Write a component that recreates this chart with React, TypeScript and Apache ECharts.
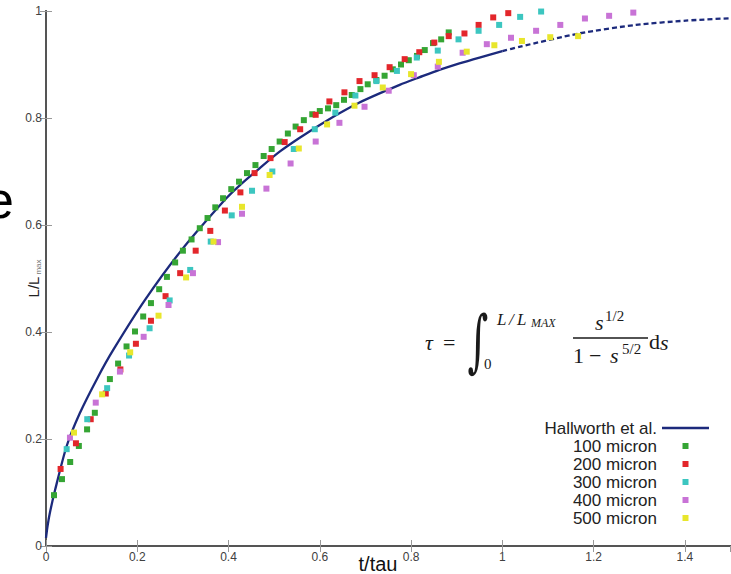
import React, { useEffect, useRef } from "react";
import * as echarts from "echarts";

// ---- data ----
const seriesNames = ["Hallworth et al.", "100 micron", "200 micron", "300 micron", "400 micron", "500 micron"];
const seriesColors = ["#1c2a7c", "#35a534", "#e3262b", "#3cc6c0", "#c873d6", "#e8e62c"];

const hallworthSolid: [number, number][] = [
  [0, 0.015], [0.003, 0.035], [0.008, 0.06], [0.02, 0.105], [0.045, 0.186], [0.074, 0.248],
  [0.114, 0.316], [0.147, 0.366], [0.217, 0.46], [0.297, 0.553], [0.392, 0.647], [0.4245, 0.674],
  [0.468, 0.706], [0.512, 0.737], [0.556, 0.763], [0.6, 0.787], [0.643, 0.809], [0.687, 0.829],
  [0.731, 0.846], [0.775, 0.862], [0.818, 0.876], [0.862, 0.89], [0.906, 0.902], [0.95, 0.913],
  [1.0, 0.925],
];
const hallworthDashed: [number, number][] = [
  [1.0, 0.925], [1.037, 0.933], [1.168, 0.958], [1.2925, 0.974], [1.402, 0.982], [1.5, 0.9865],
];

const micron100: [number, number][] = [
  [0.0175, 0.095], [0.035, 0.125], [0.053, 0.157], [0.072, 0.187], [0.09, 0.218], [0.107, 0.249],
  [0.14, 0.312], [0.158, 0.341], [0.1765, 0.373], [0.195, 0.401], [0.213, 0.429], [0.23, 0.454],
  [0.248, 0.48], [0.265, 0.503], [0.283, 0.53], [0.3, 0.552], [0.319, 0.573], [0.337, 0.594],
  [0.354, 0.613], [0.371, 0.633], [0.388, 0.65], [0.406, 0.667], [0.423, 0.681], [0.4405, 0.697],
  [0.459, 0.712], [0.477, 0.729], [0.4945, 0.742], [0.512, 0.756], [0.53, 0.771], [0.547, 0.784],
  [0.565, 0.796], [0.5835, 0.807], [0.6, 0.813], [0.618, 0.818], [0.636, 0.824], [0.653, 0.834],
  [0.67, 0.843], [0.689, 0.854], [0.705, 0.863], [0.724, 0.871], [0.742, 0.879], [0.76, 0.891],
  [0.778, 0.9], [0.795, 0.908], [0.813, 0.916], [0.83, 0.927], [0.848, 0.94], [0.866, 0.947],
  [0.8825, 0.96],
];
const micron200: [number, number][] = [
  [0.032, 0.144], [0.0656, 0.192], [0.098, 0.237], [0.131, 0.285], [0.163, 0.33], [0.197, 0.378],
  [0.23, 0.421], [0.262, 0.467], [0.294, 0.51], [0.328, 0.552], [0.36, 0.589], [0.392, 0.627],
  [0.426, 0.661], [0.457, 0.697], [0.492, 0.725], [0.523, 0.755], [0.557, 0.779], [0.591, 0.806],
  [0.621, 0.831], [0.654, 0.848], [0.687, 0.869], [0.72, 0.88], [0.753, 0.895], [0.786, 0.91],
  [0.818, 0.923], [0.851, 0.941], [0.8825, 0.953], [0.917, 0.958], [0.948, 0.974], [0.98, 0.988],
  [1.013, 0.996],
];
const micron300: [number, number][] = [
  [0.0453, 0.181], [0.0904, 0.237], [0.134, 0.295], [0.182, 0.356], [0.227, 0.407], [0.271, 0.459],
  [0.316, 0.516], [0.361, 0.569], [0.407, 0.618], [0.4515, 0.664], [0.496, 0.7], [0.543, 0.742],
  [0.589, 0.779], [0.634, 0.81], [0.678, 0.842], [0.724, 0.869], [0.769, 0.888], [0.8125, 0.913],
  [0.8585, 0.926], [0.904, 0.947], [0.948, 0.963], [0.993, 0.974], [1.039, 0.989], [1.085, 0.999],
];
const micron400: [number, number][] = [
  [0.0525, 0.2025], [0.109, 0.268], [0.162, 0.326], [0.214, 0.391], [0.2685, 0.4505], [0.322, 0.51],
  [0.377, 0.568], [0.4295, 0.621], [0.483, 0.668], [0.536, 0.715], [0.591, 0.756], [0.643, 0.791],
  [0.698, 0.821], [0.751, 0.851], [0.806, 0.88], [0.8585, 0.896], [0.913, 0.922], [0.966, 0.938],
  [1.019, 0.95], [1.074, 0.963], [1.127, 0.974], [1.181, 0.986], [1.234, 0.991], [1.287, 0.997],
];
const micron500: [number, number][] = [
  [0.0613, 0.212], [0.123, 0.2835], [0.1845, 0.362], [0.2466, 0.4305], [0.307, 0.502], [0.367, 0.569],
  [0.4295, 0.634], [0.49, 0.6935], [0.554, 0.743], [0.616, 0.788], [0.676, 0.823], [0.738, 0.857],
  [0.8, 0.882], [0.861, 0.905], [0.922, 0.924], [0.9825, 0.936], [1.043, 0.944], [1.105, 0.951],
  [1.166, 0.953],
];
const scatterData = [micron100, micron200, micron300, micron400, micron500];

const X_MIN = 0, X_MAX = 1.5, X_STEP = 0.2;
const Y_MIN = 0, Y_MAX = 1, Y_STEP = 0.2;

const SERIF = "'Liberation Serif', 'DejaVu Serif', serif";
const SANS = "'Liberation Sans', Arial, sans-serif";
const INK = "#1a1a1a";

// legend icons: 47x6 boxes (line handle, centred square marker)
const LINE_ICON = "path://M0,0M47,6M0,1.8h47v2.4h-47z";
const MARK_ICON = "path://M0,0M47,6M20.5,0h6v6h-6z";

function txt(text: string, x: number, y: number, size: number, extra: any = {}, styleExtra: any = {}) {
  return {
    type: "text",
    x,
    y,
    silent: true,
    ...extra,
    style: {
      text,
      fontSize: size,
      fontFamily: SERIF,
      fill: INK,
      align: "left",
      verticalAlign: "middle",
      ...styleExtra,
    },
  };
}

export default function App() {
  const ref = useRef<HTMLDivElement>(null);
  useEffect(() => {
    if (!ref.current) return;
    const chart = echarts.init(ref.current, undefined, { renderer: "svg" });
    const axisLine = { show: true, lineStyle: { color: "#555", width: 2 } };
    const axisTick = { show: true, inside: true, length: 6, lineStyle: { color: "#999", width: 1 } };
    const labelStyle = { fontSize: 12, fontFamily: SANS, color: "#404040" };

    const italic = { fontStyle: "italic" };
    const formula: any[] = [
      txt("τ", 425, 342, 22, {}, italic),
      txt("=", 443, 342, 22),
      txt("∫", 478, 340, 40, { scaleY: 1.7 }, { align: "center", fontFamily: "'DejaVu Serif', serif" }),
      txt("L", 497, 319, 17, {}, italic),
      txt("/", 509, 319, 17, {}, italic),
      txt("L", 517, 319, 17, {}, italic),
      txt("MAX", 531, 323, 12, {}, italic),
      txt("0", 484, 364, 15),
      txt("s", 595, 322.5, 22, {}, italic),
      txt("1/2", 605, 316, 15),
      {
        type: "line",
        silent: true,
        shape: { x1: 573, y1: 338, x2: 648, y2: 338 },
        style: { stroke: INK, lineWidth: 1.3 },
      },
      txt("1", 573, 355, 22),
      txt("−", 589, 355, 22),
      txt("s", 610, 355, 22, {}, italic),
      txt("5/2", 622, 349, 15),
      txt("d", 649, 341, 22),
      txt("s", 660, 342, 22, {}, italic),
    ];

    const option: any = {
      animation: false,
      textStyle: { fontFamily: SANS },
      grid: { left: 46, right: 0.5, top: 11, bottom: 28, containLabel: false },
      legend: {
        orient: "vertical",
        right: 22,
        top: 419,
        align: "right",
        itemWidth: 47,
        itemHeight: 6,
        itemGap: 0,
        padding: 0,
        selectedMode: false,
        data: seriesNames.map((n, i) => ({ name: n, icon: i === 0 ? LINE_ICON : MARK_ICON })),
        textStyle: { fontSize: 17, fontFamily: SANS, color: "#222", lineHeight: 18 },
      },
      xAxis: [
        {
          type: "value", min: X_MIN, max: X_MAX, interval: X_STEP, position: "bottom",
          axisLine, axisTick, splitLine: { show: false },
          axisLabel: { ...labelStyle, margin: 5, showMaxLabel: false },
        },
        {
          type: "value", min: X_MIN, max: X_MAX, interval: X_STEP, position: "top",
          axisLine, axisTick, splitLine: { show: false }, axisLabel: { show: false },
        },
      ],
      yAxis: [
        {
          type: "value", min: Y_MIN, max: Y_MAX, interval: Y_STEP, position: "left",
          axisLine, axisTick, splitLine: { show: false },
          axisLabel: { ...labelStyle, margin: 4 },
        },
        {
          type: "value", min: Y_MIN, max: Y_MAX, interval: Y_STEP, position: "right",
          axisLine, axisTick, splitLine: { show: false }, axisLabel: { show: false },
        },
      ],
      graphic: [
        txt("e", 14, 200, 52, {}, { fontFamily: SANS, fill: "#000", align: "right" }),
        txt("t/tau", 378, 564, 20, {}, { fontFamily: SANS, fill: "#111", align: "center" }),
        txt("L/L", 33, 287, 15, { rotation: Math.PI / 2 }, { fontFamily: SANS, fill: "#222", align: "center" }),
        txt("max", 38, 267, 8, { rotation: Math.PI / 2 }, { fontFamily: SANS, fill: "#777", align: "center" }),
        ...formula,
      ],
      series: [
        {
          name: seriesNames[0], type: "line", data: hallworthSolid, symbol: "none", smooth: 0.25,
          lineStyle: { color: seriesColors[0], width: 2.3 }, itemStyle: { color: seriesColors[0] }, z: 2,
        },
        {
          name: seriesNames[0], type: "line", data: hallworthDashed, symbol: "none", smooth: 0.25,
          lineStyle: { color: seriesColors[0], width: 2.3, type: [5, 3] }, itemStyle: { color: seriesColors[0] }, z: 2,
        },
        ...scatterData.map((d, i) => ({
          name: seriesNames[i + 1], type: "scatter", data: d, symbol: "rect", symbolSize: 6,
          itemStyle: { color: seriesColors[i + 1], opacity: 1 }, z: 3,
        })),
      ],
    };
    chart.setOption(option);
    return () => chart.dispose();
  }, []);
  return (
    <div
      ref={ref}
      style={{ position: "fixed", left: 0, top: 0, width: 731, height: 574, background: "#fff" }}
    />
  );
}
